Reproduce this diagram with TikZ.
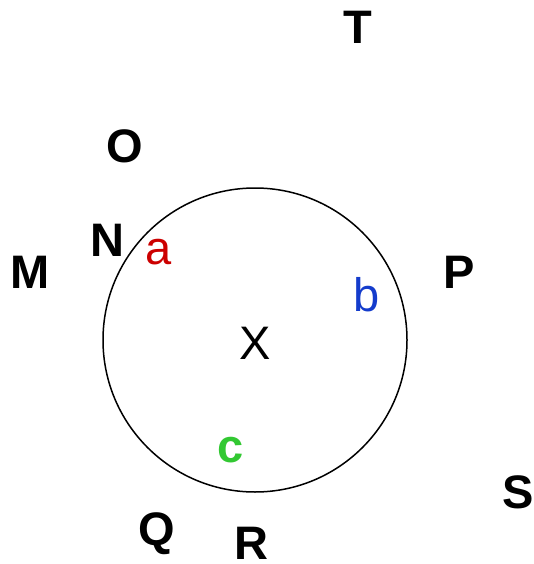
\documentclass[tikz,border=0pt]{standalone}
\usepackage{fontspec}
\setmainfont{Liberation Sans}
\definecolor{cred}{RGB}{204,0,0}
\definecolor{cblue}{RGB}{20,60,204}
\definecolor{cgreen}{RGB}{50,200,50}
\newcommand{\fs}[1]{\fontsize{#1}{#1}\selectfont}
\tikzset{
  lbl/.style={anchor=base, inner sep=0pt, font=\bfseries},
  sm/.style={anchor=base, inner sep=0pt},
}
\begin{document}
\begin{tikzpicture}[x=1pt,y=1pt]
\useasboundingbox (0,0) rectangle (534,-564);
\fill[white] (0,0) rectangle (534,-564);
\node[draw, circle, line width=1.5pt, minimum size=304pt, inner sep=0pt] (circ) at (255,-340) {};
\node[lbl] (T) at (357.5,-44) {\fs{47}T};
\node[lbl] (O) at (125,-162) {\fs{47}O};
\node[lbl] (N) at (107.5,-256.5) {\fs{47}N};
\node[lbl] (M) at (29.7,-288.5) {\fs{47}M};
\node[lbl] (P) at (459,-288) {\fs{47}P};
\node[lbl] (S) at (518,-508) {\fs{47}S};
\node[lbl] (Q) at (157,-545) {\fs{47}Q};
\node[lbl] (R) at (251.5,-559) {\fs{47}R};
\node[sm, text=cred] (a) at (158.7,-264) {\fs{47}a};
\node[sm, text=cblue] (b) at (367,-311.5) {\fs{47}b};
\node[sm] (X) at (254.7,-359) {\fs{47}X};
\node[sm, text=cgreen, font=\bfseries] (c) at (230.8,-462) {\fs{47}c};
\end{tikzpicture}
\end{document}
